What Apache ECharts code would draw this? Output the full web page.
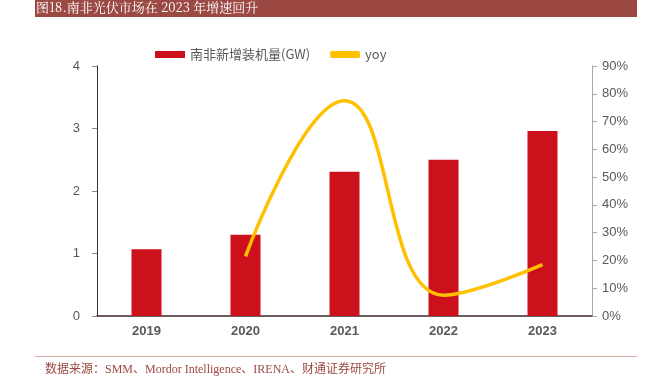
<!DOCTYPE html>
<html><head><meta charset="utf-8">
<script src="https://cdn.jsdelivr.net/npm/echarts@6/dist/echarts.min.js"></script>
<style>html,body{margin:0;padding:0;background:#fff}#c{width:657px;height:385px}</style>
</head><body><div id="c"></div>
<script>
const categories = ['2019','2020','2021','2022','2023'];
const capacity = [1.07, 1.30, 2.31, 2.50, 2.96];
const yoy = [null, 21.5, 77.5, 7.5, 18.5];
const chart = echarts.init(document.getElementById('c'));
chart.setOption({
  animation:false,
  graphic:[
    {type:'rect',shape:{x:35,y:0,width:602,height:17},style:{fill:'#9C4944'}},
    {type:'text',left:36,top:1,style:{text:'图18.南非光伏市场在 2023 年增速回升',fill:'#fff',font:'13px "Noto Serif CJK SC", "Liberation Serif", "Noto Sans CJK SC", serif'}},
    {type:'rect',shape:{x:35,y:356,width:602,height:1},style:{fill:'#D9A7A4'}},
    {type:'text',left:45,top:364,style:{text:'数据来源：SMM、Mordor Intelligence、IRENA、财通证券研究所',fill:'#9C4944',font:'12px "Liberation Serif", "Noto Sans CJK SC", serif'}}
  ],
  legend:{top:43,left:150,itemGap:20,itemWidth:30,itemHeight:7,textStyle:{color:'#595959',fontSize:13,fontFamily:'"Noto Sans CJK SC", Arial'},
    data:[{name:'南非新增装机量(GW)',icon:'rect'},{name:'yoy',icon:'roundRect'}]},
  grid:{left:97,right:65,top:66,bottom:69},
  xAxis:{type:'category',data:categories,axisLine:{lineStyle:{color:'#3a2a2a',width:1.5}},axisTick:{show:false},
    axisLabel:{color:'#595959',fontSize:13,fontWeight:'bold',margin:9,fontFamily:'Arial'}},
  yAxis:[
    {type:'value',min:0,max:4,interval:1,splitLine:{show:false},axisLine:{show:true,lineStyle:{color:'#3a2a2a'}},
     axisTick:{show:true,inside:false,length:5,lineStyle:{color:'#888'}},axisLabel:{color:'#595959',fontSize:13,margin:17,fontFamily:'Arial'}},
    {type:'value',min:0,max:90,interval:10,splitLine:{show:false},axisLine:{show:true,lineStyle:{color:'#aaa'}},
     axisTick:{show:true,length:5,lineStyle:{color:'#aaa'}},axisLabel:{color:'#595959',fontSize:13,margin:10,formatter:'{value}%',fontFamily:'Arial'}}
  ],
  series:[
    {name:'南非新增装机量(GW)',type:'bar',data:capacity,barWidth:30,itemStyle:{color:'#CC111C'}},
    {name:'yoy',type:'line',yAxisIndex:1,data:yoy,smooth:0.45,showSymbol:false,lineStyle:{color:'#FFC000',width:3.5},itemStyle:{color:'#FFC000'}}
  ]
});
</script></body></html>
